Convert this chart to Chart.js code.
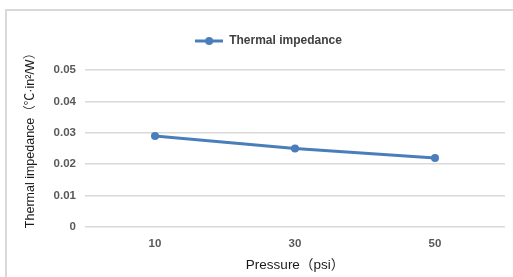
<!DOCTYPE html>
<html>
<head>
<meta charset="utf-8">
<script src="https://cdn.jsdelivr.net/npm/chart.js@4/dist/chart.umd.min.js"></script>
<style>
  html, body { margin: 0; padding: 0; background: #fff; }
  #wrap { position: relative; width: 513px; height: 277px; overflow: hidden; }
  #frame { position: absolute; left: 5px; top: 9px; width: 520px; height: 300px;
           border-left: 2px solid #d9d9d9; border-top: 2px solid #d9d9d9; box-sizing: border-box; }
  canvas { position: absolute; left: 0; top: 0; }
</style>
</head>
<body>
<div id="wrap">
  <div id="frame"></div>
  <canvas id="c" width="513" height="277"></canvas>
</div>
<script>
const categories = ['10', '30', '50'];
const seriesName = 'Thermal impedance';
const impedanceValues = [0.029, 0.025, 0.022];
const yTickValues = [0, 0.01, 0.02, 0.03, 0.04, 0.05];
const yTickLabels = ['0', '0.01', '0.02', '0.03', '0.04', '0.05'];
const xTitle = 'Pressure（psi）';
const yTitle = 'Thermal impedance（℃·in²/W）';

const lineColor = '#4a7ebb';
const FAM = '"Liberation Sans", Arial, "Noto Sans CJK SC", sans-serif';
const tickFont = { family: FAM, size: 11.5, weight: 'bold' };

// legend symbol: line with a dot
const sym = document.createElement('canvas');
sym.width = 28; sym.height = 10;
(function () {
  const g = sym.getContext('2d');
  g.strokeStyle = lineColor; g.lineWidth = 3;
  g.beginPath(); g.moveTo(0, 5); g.lineTo(28, 5); g.stroke();
  g.fillStyle = lineColor;
  g.beginPath(); g.arc(14, 5, 4, 0, Math.PI * 2); g.fill();
})();

// extra gap under the legend
const legendGap = {
  id: 'legendGap',
  afterInit(chart) {
    const lg = chart.legend;
    if (lg && !lg._gapPatched) {
      const f = lg.fit;
      lg.fit = function () { f.call(this); this.height += 13; };
      lg._gapPatched = true;
    }
  }
};

// y-axis title drawn slightly above the plot centre, as in the reference
const yTitlePlugin = {
  id: 'yTitlePlugin',
  afterDraw(chart) {
    const ctx = chart.ctx, a = chart.chartArea;
    ctx.save();
    ctx.translate(31, (a.top + a.bottom) / 2 - 11);
    ctx.rotate(-Math.PI / 2);
    ctx.font = '12.5px ' + FAM;
    ctx.fillStyle = '#1a1a1a';
    ctx.textAlign = 'center';
    ctx.textBaseline = 'middle';
    ctx.fillText(yTitle, 0, 0);
    ctx.restore();
  }
};

new Chart(document.getElementById('c'), {
  type: 'line',
  data: {
    labels: categories,
    datasets: [{
      label: seriesName,
      data: impedanceValues,
      borderColor: lineColor,
      backgroundColor: lineColor,
      borderWidth: 3,
      pointRadius: 4,
      pointBorderWidth: 0,
      pointHoverRadius: 4,
      pointBackgroundColor: lineColor,
      pointBorderColor: lineColor,
      tension: 0
    }]
  },
  plugins: [legendGap, yTitlePlugin],
  options: {
    responsive: false,
    animation: false,
    devicePixelRatio: 1,
    layout: { padding: { left: 32, right: 8, top: 10, bottom: 4 } },
    plugins: {
      tooltip: { enabled: false },
      legend: {
        position: 'top',
        labels: {
          usePointStyle: true,
          pointStyleWidth: 28,
          boxHeight: 10,
          padding: 25,
          color: '#404040',
          font: { family: FAM, size: 12, weight: 'bold' },
          generateLabels: (chart) => chart.data.datasets.map((ds, i) => ({
            text: ds.label, pointStyle: sym, fillStyle: lineColor, strokeStyle: lineColor,
            lineWidth: 0, hidden: false, datasetIndex: i, fontColor: '#404040'
          }))
        }
      }
    },
    scales: {
      x: {
        type: 'category',
        offset: true,
        grid: { display: false, drawTicks: false },
        border: { display: false },
        ticks: { color: '#595959', font: tickFont, padding: 10 },
        title: { display: true, text: xTitle, color: '#1a1a1a', font: { family: FAM, size: 13.5 }, padding: { top: 4, bottom: 0 } },
        afterFit: (s) => { s.height = 46; }
      },
      y: {
        min: 0,
        max: 0.05,
        afterBuildTicks: (s) => { s.ticks = yTickValues.map(v => ({ value: v })); },
        grid: { color: '#d9d9d9', lineWidth: 1.5, drawTicks: false },
        border: { display: false },
        ticks: {
          color: '#595959', font: tickFont, padding: 9,
          callback: (v, i) => yTickLabels[i]
        },
        title: { display: false, text: yTitle },
        afterFit: (s) => { s.width = 53; }
      }
    }
  }
});
</script>
</body>
</html>
